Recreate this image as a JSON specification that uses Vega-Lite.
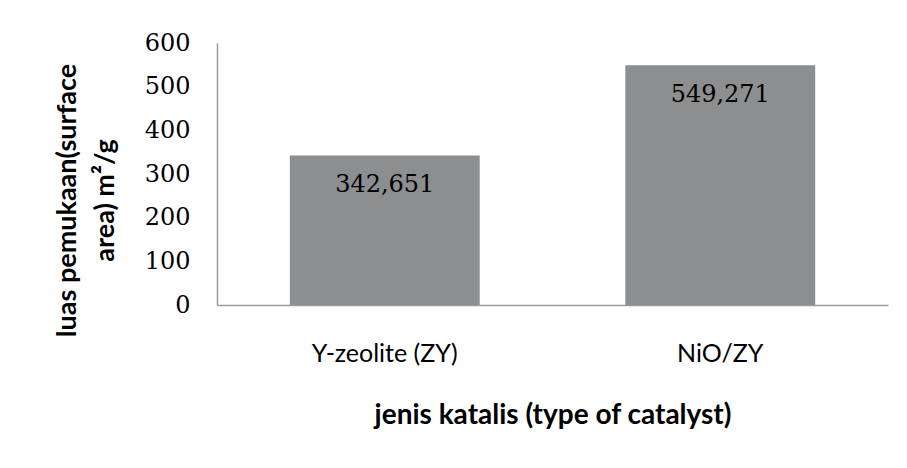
{
  "$schema": "https://vega.github.io/schema/vega-lite/v6.json",
  "width": 671,
  "height": 262,
  "autosize": {"type": "none"},
  "padding": {"left": 217, "top": 43, "right": 19, "bottom": 163},
  "background": "white",
  "config": {
    "view": {"stroke": null},
    "locale": {"number": {"decimal": ",", "thousands": ".", "grouping": [3], "currency": ["", ""]}}
  },
  "data": {
    "values": [
      {"katalis": "Y-zeolite (ZY)", "luas": 342.651},
      {"katalis": "NiO/ZY", "luas": 549.271}
    ]
  },
  "encoding": {
    "x": {
      "field": "katalis",
      "type": "nominal",
      "sort": null,
      "scale": {"paddingInner": 0.434, "paddingOuter": 0.217},
      "axis": {
        "title": "jenis katalis (type of catalyst)",
        "titleFont": "Lato",
        "titleFontSize": 28,
        "titleFontWeight": "bold",
        "titleColor": "#000000",
        "titleY": 110,
        "titleBaseline": "middle",
        "labelFont": "Lato",
        "labelFontSize": 25,
        "labelColor": "#000000",
        "labelAngle": 0,
        "labelPadding": 48,
        "labelBaseline": "middle",
        "ticks": false,
        "domainColor": "#9a9a9a",
        "domainWidth": 1.5
      }
    },
    "y": {
      "field": "luas",
      "type": "quantitative",
      "scale": {"domain": [0, 600]},
      "axis": {
        "title": ["luas pemukaan(surface", "area) m²/g"],
        "titleFont": "Lato",
        "titleFontSize": 27,
        "titleFontWeight": "bold",
        "titleColor": "#000000",
        "titleLineHeight": 38,
        "titleAngle": 270,
        "titleX": -142,
        "titleY": 157,
        "titleAlign": "center",
        "titleBaseline": "alphabetic",
        "values": [0, 100, 200, 300, 400, 500, 600],
        "format": "d",
        "labelFont": "DejaVu Serif",
        "labelFontSize": 24,
        "labelColor": "#000000",
        "labelPadding": 27,
        "ticks": false,
        "grid": false,
        "domainColor": "#9a9a9a",
        "domainWidth": 1.5
      }
    }
  },
  "layer": [
    {"mark": {"type": "bar", "color": "#8d8e90"}},
    {
      "mark": {"type": "text", "font": "DejaVu Serif", "fontSize": 24, "color": "#000000", "baseline": "middle", "dy": 30},
      "encoding": {"text": {"field": "luas", "type": "quantitative", "format": ".3f"}}
    }
  ]
}
